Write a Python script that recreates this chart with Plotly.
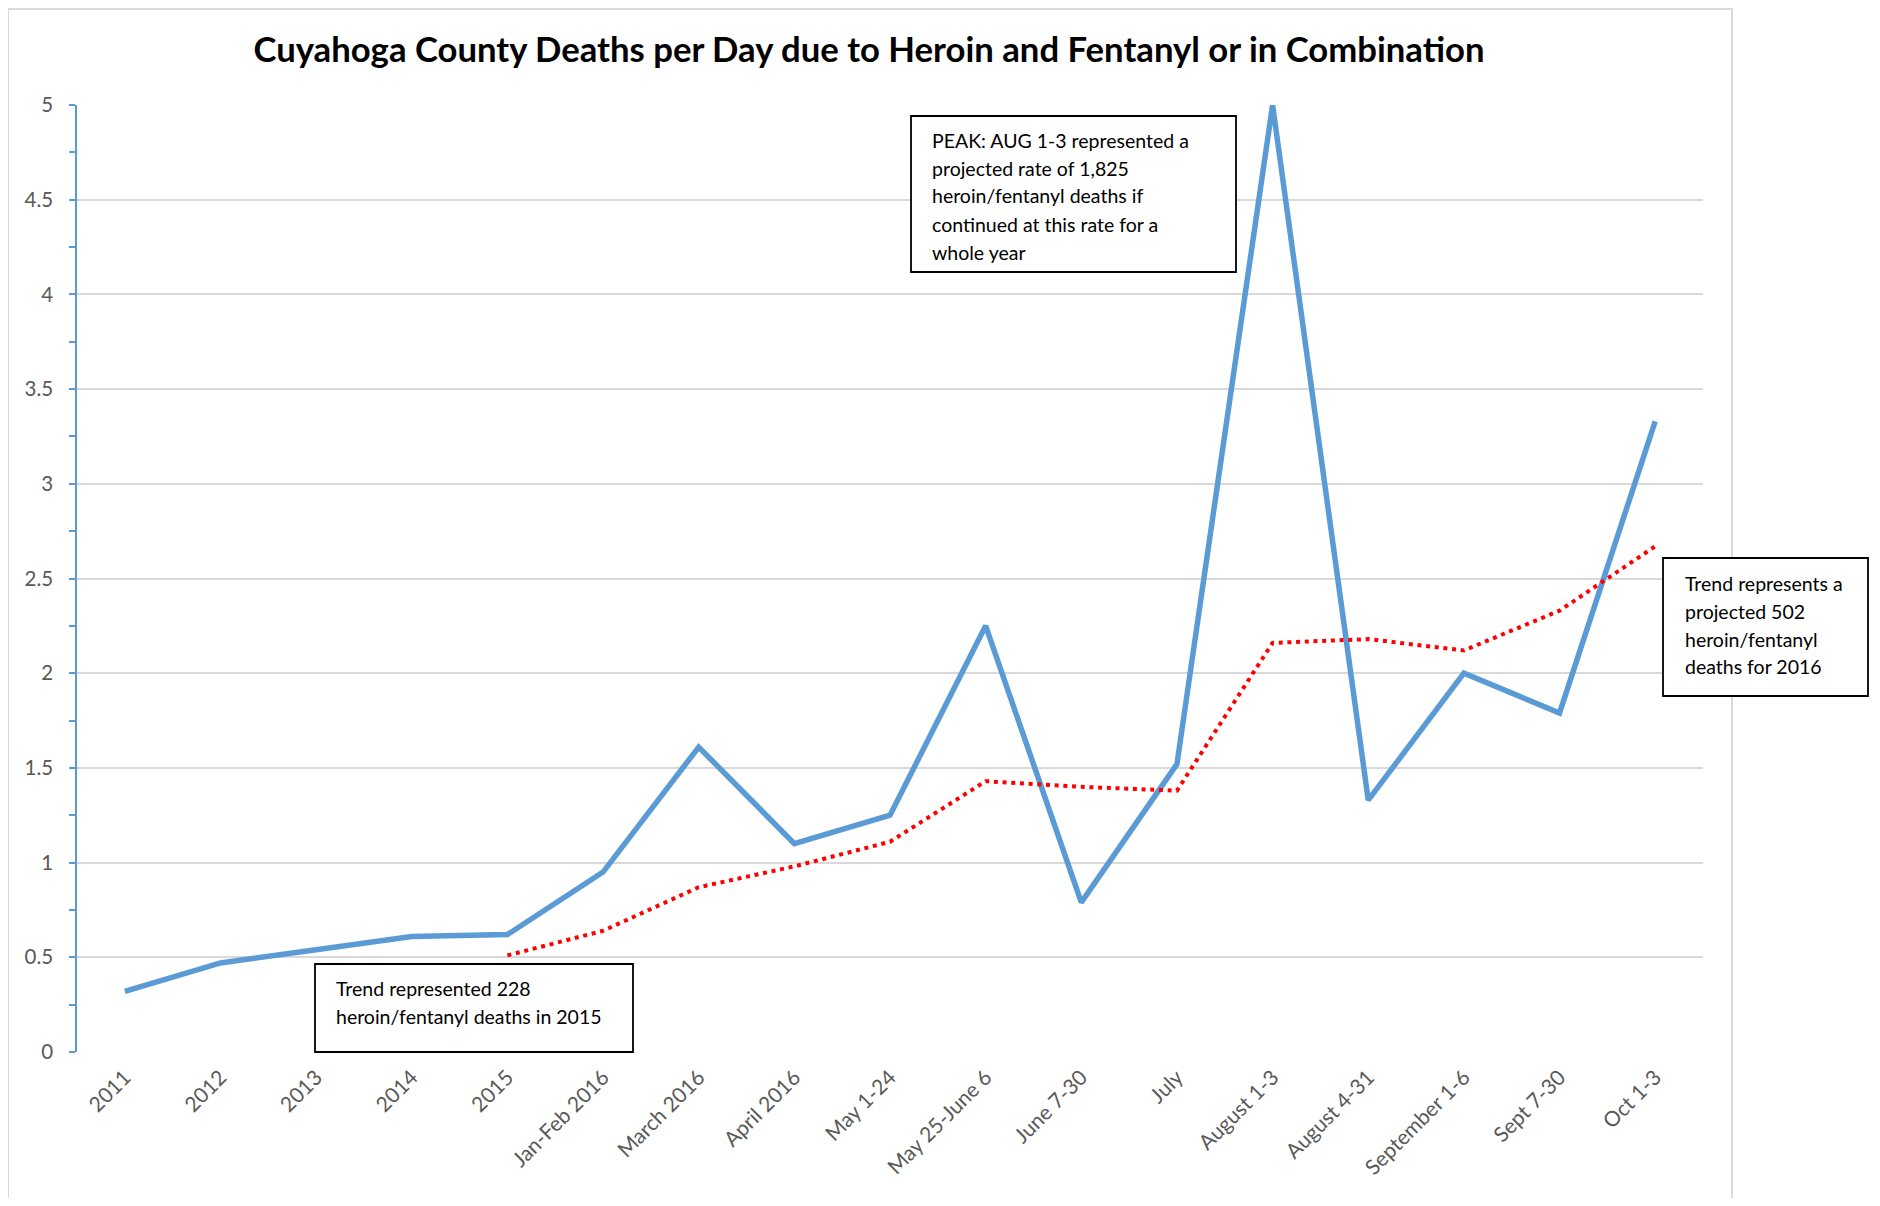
import plotly.graph_objects as go

categories = ["2011", "2012", "2013", "2014", "2015", "Jan-Feb 2016", "March 2016",
              "April 2016", "May 1-24", "May 25-June 6", "June 7-30", "July",
              "August 1-3", "August 4-31", "September 1-6", "Sept 7-30", "Oct 1-3"]
deaths_per_day = [0.32, 0.47, 0.54, 0.61, 0.62, 0.95, 1.61, 1.10, 1.25, 2.25, 0.79,
                  1.52, 5.0, 1.33, 2.0, 1.79, 3.33]
trend_categories = categories[4:]
trend_values = [0.51, 0.64, 0.87, 0.98, 1.11, 1.43, 1.40, 1.38, 2.16, 2.18, 2.12, 2.33, 2.67]

y_ticks = [0, 0.5, 1, 1.5, 2, 2.5, 3, 3.5, 4, 4.5, 5]
y_tick_labels = ["0", "0.5", "1", "1.5", "2", "2.5", "3", "3.5", "4", "4.5", "5"]
y_minor_ticks = [0.25, 0.75, 1.25, 1.75, 2.25, 2.75, 3.25, 3.75, 4.25, 4.75]

title_text = "Cuyahoga County Deaths per Day due to Heroin and Fentanyl or in Combination"
peak_lines = ["PEAK: AUG 1-3 represented a", "projected rate of 1,825",
              "heroin/fentanyl deaths if", "continued at this rate for a", "whole year"]
trend2015_lines = ["Trend represented 228", "heroin/fentanyl deaths in 2015"]
trend2016_lines = ["Trend represents a", "projected 502", "heroin/fentanyl", "deaths for 2016"]

FONT = "Lato, sans-serif"
OFF = 8  # default body margin of the html page
W, H = 1880 - 2 * OFF, 1206 - 2 * OFF
# plot area bounds in page pixels
PL, PR, PT, PB = 77, 1703, 105, 1052
L, R, T, B = PL - OFF, PR - OFF, PT - OFF, PB - OFF


def px(x):
    return (x - PL) / (PR - PL)


def py(y):
    return (PB - y) / (PB - PT)


fig = go.Figure()
fig.add_trace(go.Scatter(x=categories, y=deaths_per_day, mode="lines",
                         line=dict(color="#5B9BD5", width=5.5), showlegend=False))
fig.add_trace(go.Scatter(x=trend_categories, y=trend_values, mode="lines",
                         line=dict(color="#FF0000", width=4, dash="4px,4.7px"), showlegend=False))

shapes = []
# outer chart border
shapes.append(dict(type="rect", xref="paper", yref="paper",
                   x0=px(8), x1=px(1732), y0=py(1230), y1=py(9),
                   line=dict(color="#D9D9D9", width=2), fillcolor="rgba(0,0,0,0)", layer="below"))

annotations = []


def add_box(x0, x1, y0, y1, lines, text_x, line_ys):
    shapes.append(dict(type="rect", xref="paper", yref="paper",
                       x0=px(x0), x1=px(x1), y0=py(y1), y1=py(y0),
                       line=dict(color="black", width=1.8), fillcolor="white", layer="above"))
    for t, ly in zip(lines, line_ys):
        annotations.append(dict(xref="paper", yref="paper", x=px(text_x), y=py(ly),
                                xanchor="left", yanchor="middle", text=t, showarrow=False,
                                font=dict(family=FONT, size=19.5, color="black")))


add_box(911, 1236, 116, 272, peak_lines, 930, [141, 168, 196, 224, 252])
add_box(315, 633, 964, 1052, trend2015_lines, 334, [988, 1016])
add_box(1663, 1868, 558, 696, trend2016_lines, 1683, [583, 611, 639, 666])

fig.update_layout(
    width=W, height=H,
    margin=dict(l=L, r=W - R, t=T, b=H - B, autoexpand=False),
    paper_bgcolor="white", plot_bgcolor="white",
    title=dict(text=title_text, x=(869 - OFF) / W, xanchor="center", y=1 - (50 - OFF) / H,
               yanchor="middle",
               font=dict(family=FONT, size=34.7, color="black", weight="bold")),
    shapes=shapes, annotations=annotations,
    xaxis=dict(type="category", categoryorder="array", categoryarray=categories,
               range=[-0.5, len(categories) - 0.5], showgrid=False, zeroline=False,
               showline=False, ticks="", tickangle=-45, automargin=False,
               tickfont=dict(family=FONT, size=21, color="#595959"), ticklabelstandoff=8),
    yaxis=dict(range=[0, 5], tickvals=y_ticks, ticktext=y_tick_labels, showgrid=True,
               gridcolor="#D9D9D9", gridwidth=2, zeroline=False, showline=True,
               linecolor="#5B9BD5", linewidth=1.5, ticks="outside", ticklen=6,
               tickcolor="#5B9BD5", tickwidth=1.5, automargin=False,
               minor=dict(tickvals=y_minor_ticks, ticks="outside", ticklen=6,
                          tickcolor="#5B9BD5", tickwidth=1.5, showgrid=False),
               tickfont=dict(family=FONT, size=20.5, color="#595959"), ticklabelstandoff=12),
)

fig.write_html("out.html")
